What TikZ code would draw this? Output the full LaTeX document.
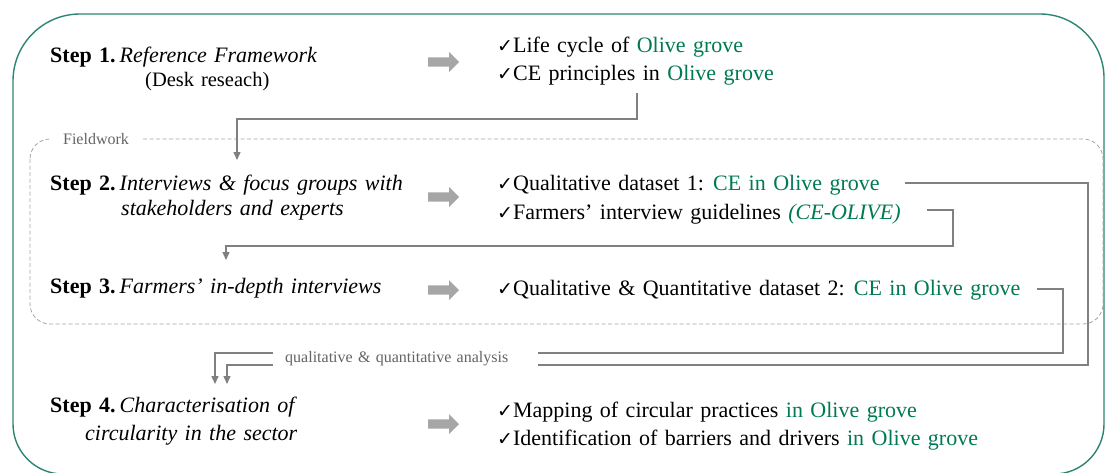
\documentclass[tikz,border=0pt]{standalone}
\usepackage{fontspec}
\setmainfont[WordSpace=1.35]{Liberation Serif}
\newfontfamily\chkfont{DejaVu Sans}
\usetikzlibrary{arrows.meta}
\definecolor{frameteal}{RGB}{47,133,115}
\definecolor{olivegreen}{RGB}{0,122,84}
\definecolor{conngray}{RGB}{128,128,128}
\definecolor{arrowgray}{RGB}{166,166,166}
\definecolor{dashgray}{RGB}{165,165,165}
\definecolor{labelgray}{RGB}{100,100,100}
\newcommand{\ck}{{\chkfont\fontsize{19}{19}\selectfont ✓}}
\newcommand{\og}[1]{\textcolor{olivegreen}{#1}}
\newcommand{\stp}[1]{\textbf{Step #1.}\hspace{4pt}}
\begin{document}
\begin{tikzpicture}[x=1pt,y=-1pt,
  txt/.style={anchor=base west, inner sep=0pt, font=\fontsize{22}{26}\selectfont, text=black},
  conn/.style={draw=conngray, line width=1.4pt, -{Triangle[length=8pt,width=7pt]}},
  frame/.style={draw=frameteal, line width=1.4pt},
  fieldbox/.style={draw=dashgray, line width=0.8pt, dash pattern=on 4pt off 2.5pt},
  smalllabel/.style={inner sep=0pt, text=labelgray},
  blockarrow/.pic={\fill[arrowgray] (-15,-4.7) -- (6,-4.7) -- (6,-10) -- (16,0) -- (6,10) -- (6,4.7) -- (-15,4.7) -- cycle;}
]
\useasboundingbox (0,0) rectangle (1107,472);
\fill[white] (0,0) rectangle (1107,472);

% outer frame
\draw[frame] (13,250) [rounded corners=67pt] |- (560,14) [rounded corners=64pt] -| (1104,250) [rounded corners=50pt] |- (560,474) [rounded corners=50pt] -| (13,250);

% fieldwork box
\draw[fieldbox, rounded corners=20pt] (30,139) rectangle (1103,324);
\node[smalllabel, fill=white, minimum width=94pt, minimum height=14pt, font=\fontsize{16}{18}\selectfont] (fw) at (96,139) {Fieldwork};

% step texts
\node[txt] (s1) at (50,62) {\stp{1}\textit{Reference Framework}};
\node[txt, font=\fontsize{20.5}{24}\selectfont] (s1b) at (145,86) {(Desk reseach)};
\node[txt] (s2) at (50,190) {\stp{2}\textit{Interviews \& focus groups with}};
\node[txt] (s2b) at (121,215) {\textit{stakeholders and experts}};
\node[txt] (s3) at (50,293) {\stp{3}\textit{Farmers’ in-depth interviews}};
\node[txt] (s4) at (50,412) {\stp{4}\textit{Characterisation of}};
\node[txt] (s4b) at (85,440) {\textit{circularity in the sector}};

% block arrows
\pic at (443,62) {blockarrow};
\pic at (443,197) {blockarrow};
\pic at (443,290) {blockarrow};
\pic at (443,424) {blockarrow};

% results
\node[txt] (r1a) at (497,52) {\ck Life cycle of \og{Olive grove}};
\node[txt] (r1b) at (497,80) {\ck CE principles in \og{Olive grove}};
\node[txt] (r2a) at (497,190) {\ck Qualitative dataset 1: \og{CE in Olive grove}};
\node[txt] (r2b) at (497,219) {\ck Farmers’ interview guidelines \og{\textit{(CE-OLIVE)}}};
\node[txt] (r3) at (497,295) {\ck Qualitative \& Quantitative dataset 2: \og{CE in Olive grove}};
\node[txt] (r4a) at (497,417) {\ck Mapping of circular practices \og{in Olive grove}};
\node[txt] (r4b) at (497,445) {\ck Identification of barriers and drivers \og{in Olive grove}};

% connectors
\coordinate (c1s) at (637,93);
\coordinate (c1e) at (237,160);
\draw[conn] (c1s) -- (637,119) -| (c1e);
\coordinate (c3s) at (927,210);
\coordinate (c3e) at (226,260);
\draw[conn] (c3s) -| (953,246) -| (c3e);
\coordinate (c2s) at (905,183);
\coordinate (c2e) at (227,384);
\draw[conn] (c2s) -| (1088,365) -| (c2e);
\coordinate (c4s) at (1037,289);
\coordinate (c4e) at (215,384);
\draw[conn] (c4s) -| (1063,353) -| (c4e);

\node[smalllabel, anchor=west, fill=white, inner xsep=12pt, inner ysep=3pt, text width=241pt, align=left, font=\fontsize{16}{18}\selectfont] (qa) at (273,359) {qualitative \& quantitative analysis};
\end{tikzpicture}
\end{document}
